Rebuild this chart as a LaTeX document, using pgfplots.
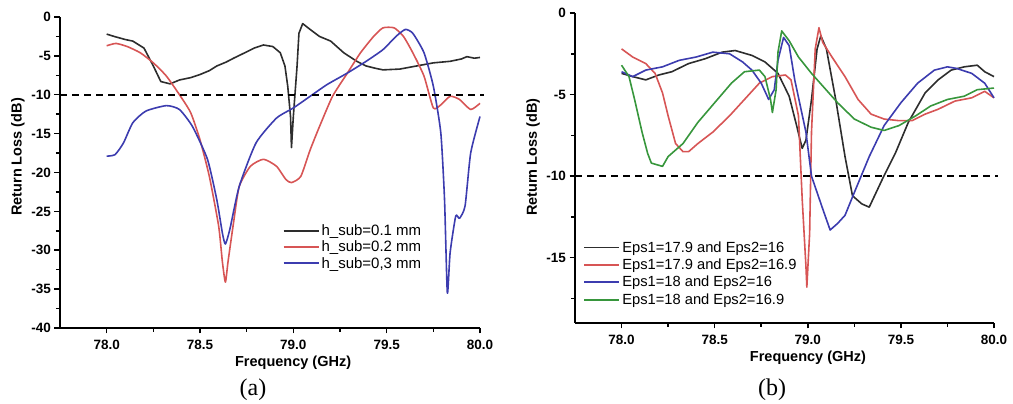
\documentclass[border=0pt]{standalone}
\usepackage{fontspec}
\setmainfont{Liberation Sans}
\newfontfamily\capfont{Liberation Serif}
\usepackage{pgfplots}
\pgfplotsset{compat=1.18}

\definecolor{cblk}{RGB}{45,45,45}
\definecolor{cred}{RGB}{215,85,85}
\definecolor{cblu}{RGB}{60,60,175}
\definecolor{cgrn}{RGB}{55,150,60}

\pgfplotsset{
  rl/.style={
    scale only axis,
    axis lines*=left,
    axis line style={line width=1.8pt},
    xmin=77.75, xmax=80,
    xtick={78,78.5,79,79.5,80},
    minor xtick={78.25,78.75,79.25,79.75},
    tick align=outside,
    major tick length=5.5pt, minor tick length=4pt,
    every tick/.style={black, line width=1.5pt},
    /pgf/number format/assume math mode=true,
    xticklabel style={font=\bfseries\fontsize{13.5}{15}\selectfont, yshift=-3pt,
      /pgf/number format/fixed, /pgf/number format/fixed zerofill,
      /pgf/number format/precision=1},
    yticklabel style={font=\bfseries\fontsize{13.5}{15}\selectfont,
      /pgf/number format/fixed, /pgf/number format/precision=0},
    xlabel={\bfseries Frequency (GHz)},
    ylabel={\bfseries Return Loss (dB)},
    label style={font=\bfseries\fontsize{14.5}{16}\selectfont},
    legend cell align=left,
    legend image code/.code={\draw[#1, line width=1.8pt] (0pt,0pt) -- (35pt,0pt);},
    clip=false,
  },
  dl/.style={line width=1.6pt, line join=round},
}

\begin{document}
\begin{tikzpicture}[x=1pt,y=1pt]
\useasboundingbox (0,0) rectangle (1013,404);

% ---------- (a)
\begin{axis}[rl,
  at={(60pt,76pt)}, anchor=south west,
  width=420pt, height=311pt,
  ymin=-40, ymax=0,
  ytick={-40,-35,...,0},
  minor ytick={-37.5,-32.5,...,-2.5},
  xlabel style={at={(axis description cs:0.555,-0.113)}, anchor=center},
  ylabel style={at={(axis description cs:-0.10,0.55)}, anchor=center},
  legend style={draw=none, fill=none, at={(0.53,0.34)}, anchor=north west,
    font=\fontsize{15}{18}\selectfont, inner sep=0pt, row sep=0pt},
]
\addplot[dl, cblk] coordinates {
(78.0,-2.2) (78.04,-2.5) (78.07,-2.7) (78.1,-2.9) (78.14,-3.1) (78.2,-4.0) (78.25,-6.3) (78.29,-8.3)
(78.34,-8.6) (78.39,-8.1) (78.45,-7.8) (78.5,-7.4) (78.55,-6.9) (78.59,-6.3) (78.64,-5.8) (78.68,-5.3)
(78.74,-4.6) (78.79,-4.0) (78.84,-3.6) (78.89,-3.8) (78.93,-4.6) (78.955,-6.3) (78.97,-8.9)
(78.985,-12.8) (78.99,-16.8) (79.0,-12.8) (79.02,-6.3) (79.03,-2.1) (79.05,-0.85) (79.09,-1.6)
(79.14,-2.5) (79.2,-3.1) (79.27,-4.6) (79.34,-5.7) (79.39,-6.3) (79.44,-6.6) (79.48,-6.8) (79.57,-6.7)
(79.66,-6.3) (79.75,-5.9) (79.84,-5.7) (79.9,-5.4) (79.93,-5.1) (79.97,-5.3) (80.0,-5.2)
};
\addlegendentry{h\_sub=0.1 mm}
\addplot[dl, cred, smooth, tension=0.35] coordinates {
(78.0,-3.7) (78.05,-3.4) (78.11,-3.8) (78.18,-4.6) (78.25,-5.9) (78.32,-7.6) (78.39,-10.0)
(78.45,-12.3) (78.5,-15.8) (78.55,-20.5) (78.6,-26.9) (78.62,-31.5) (78.636,-34.1) (78.65,-31.5)
(78.68,-26.4) (78.71,-21.8) (78.77,-19.2) (78.84,-18.3) (78.91,-19.2) (78.96,-20.9) (78.99,-21.3)
(79.04,-20.5) (79.09,-17.1) (79.14,-14.1) (79.21,-10.2) (79.29,-7.2) (79.36,-4.6) (79.43,-2.5)
(79.48,-1.4) (79.54,-1.4) (79.59,-2.5) (79.64,-4.6) (79.7,-7.6) (79.75,-11.7) (79.79,-11.3)
(79.84,-10.2) (79.89,-10.6) (79.95,-11.9) (80.0,-11.1)
};
\addlegendentry{h\_sub=0.2 mm}
\addplot[dl, cblu, smooth, tension=0.35] coordinates {
(78.0,-17.9) (78.045,-17.7) (78.09,-16.2) (78.14,-13.6) (78.21,-12.1) (78.32,-11.4) (78.39,-11.9)
(78.46,-14.1) (78.54,-18.3) (78.59,-23.5) (78.62,-27.8) (78.636,-29.2) (78.66,-27.3) (78.71,-21.8)
(78.8,-16.2) (78.91,-13.0) (79.0,-11.7) (79.09,-10.2) (79.18,-8.7) (79.29,-7.2) (79.39,-5.7)
(79.48,-4.2) (79.55,-2.5) (79.6,-1.6) (79.64,-2.1) (79.7,-4.6) (79.75,-8.9) (79.79,-14.9)
(79.81,-23.5) (79.825,-35.5) (79.84,-30.3) (79.87,-25.6) (79.89,-25.9) (79.92,-24.3) (79.95,-17.5)
(80.0,-12.8)
};
\addlegendentry{h\_sub=0,3 mm}
\addplot[black, line width=1.6pt, dash pattern=on 7pt off 5pt, forget plot]
  coordinates {(77.75,-10) (80.02,-10)};
\end{axis}

% ---------- (b)
\begin{axis}[rl,
  at={(575pt,81pt)}, anchor=south west,
  width=419pt, height=310pt,
  ymin=-19, ymax=0,
  ytick={-15,-10,-5,0},
  minor ytick={-17.5,-12.5,-7.5,-2.5},
  xlabel style={at={(axis description cs:0.556,-0.113)}, anchor=center},
  ylabel style={at={(axis description cs:-0.10,0.535)}, anchor=center},
  legend style={draw=none, fill=none, at={(0.02,0.27)}, anchor=north west,
    font=\fontsize{14.7}{18}\selectfont, inner sep=0pt, row sep=1.2pt},
]
\addplot[dl, cblk] coordinates {
(78.0,-3.7) (78.06,-3.9) (78.13,-4.1) (78.2,-3.8) (78.27,-3.6) (78.36,-3.1) (78.45,-2.8)
(78.54,-2.4) (78.61,-2.3) (78.7,-2.6) (78.77,-3.0) (78.84,-3.7) (78.9,-5.1) (78.94,-6.9)
(78.97,-8.3) (78.99,-7.8) (79.02,-5.3) (79.05,-2.2) (79.07,-1.4) (79.1,-2.2) (79.15,-5.3)
(79.2,-8.8) (79.24,-11.2) (79.29,-11.7) (79.33,-11.9) (79.4,-10.2) (79.47,-8.6) (79.54,-6.7)
(79.63,-4.9) (79.7,-4.1) (79.77,-3.5) (79.84,-3.3) (79.91,-3.2) (79.95,-3.6) (80.0,-3.9)
};
\addlegendentry{Eps1=17.9 and Eps2=16}
\addplot[dl, cred] coordinates {
(78.0,-2.2) (78.06,-2.7) (78.13,-3.1) (78.18,-3.7) (78.22,-4.9) (78.25,-6.3) (78.29,-8.0)
(78.33,-8.5) (78.36,-8.5) (78.41,-8.0) (78.49,-7.3) (78.58,-6.3) (78.66,-5.3) (78.74,-4.3)
(78.81,-3.9) (78.88,-3.8) (78.91,-4.1) (78.95,-6.3) (78.97,-11.4) (78.99,-15.5) (78.995,-16.8)
(79.01,-13.5) (79.02,-7.3) (79.04,-2.2) (79.06,-0.9) (79.08,-1.8) (79.13,-2.7) (79.2,-3.9)
(79.27,-5.3) (79.34,-6.2) (79.41,-6.5) (79.49,-6.6) (79.56,-6.6) (79.63,-6.2) (79.7,-5.9)
(79.79,-5.4) (79.88,-5.2) (79.95,-4.8) (80.0,-5.2)
};
\addlegendentry{Eps1=17.9 and Eps2=16.9}
\addplot[dl, cblu] coordinates {
(78.0,-3.6) (78.06,-3.9) (78.13,-3.5) (78.22,-3.3) (78.31,-2.9) (78.4,-2.7) (78.49,-2.4)
(78.58,-2.5) (78.65,-3.0) (78.7,-3.5) (78.75,-4.3) (78.79,-5.3) (78.82,-4.7) (78.84,-2.9)
(78.87,-1.5) (78.9,-2.0) (78.93,-4.1) (78.99,-7.3) (79.02,-10.0) (79.08,-12.0) (79.12,-13.3)
(79.16,-12.9) (79.2,-12.4) (79.25,-11.0) (79.33,-8.8) (79.41,-6.9) (79.5,-5.5) (79.59,-4.3)
(79.68,-3.5) (79.75,-3.3) (79.8,-3.4) (79.88,-3.7) (79.95,-4.3) (80.0,-5.2)
};
\addlegendentry{Eps1=18 and Eps2=16}
\addplot[dl, cgrn] coordinates {
(78.0,-3.2) (78.04,-3.9) (78.07,-5.3) (78.11,-7.3) (78.14,-8.6) (78.16,-9.2) (78.22,-9.4)
(78.25,-8.8) (78.33,-8.0) (78.41,-6.7) (78.5,-5.5) (78.59,-4.3) (78.66,-3.6) (78.74,-3.5)
(78.77,-3.9) (78.8,-5.3) (78.81,-6.1) (78.83,-4.7) (78.84,-2.4) (78.86,-1.1) (78.9,-1.7)
(78.95,-2.7) (79.02,-3.7) (79.09,-4.6) (79.16,-5.5) (79.25,-6.5) (79.34,-7.0) (79.41,-7.2)
(79.49,-6.9) (79.58,-6.3) (79.66,-5.7) (79.75,-5.3) (79.84,-5.1) (79.91,-4.7) (80.0,-4.6)
};
\addlegendentry{Eps1=18 and Eps2=16.9}
\addplot[black, line width=1.6pt, dash pattern=on 7pt off 5pt, forget plot]
  coordinates {(77.75,-10) (80.02,-10)};
\end{axis}

\node[font=\capfont\fontsize{24}{28}\selectfont] at (253,14) {(a)};
\node[font=\capfont\fontsize{24}{28}\selectfont] at (772,14) {(b)};
\end{tikzpicture}
\end{document}
